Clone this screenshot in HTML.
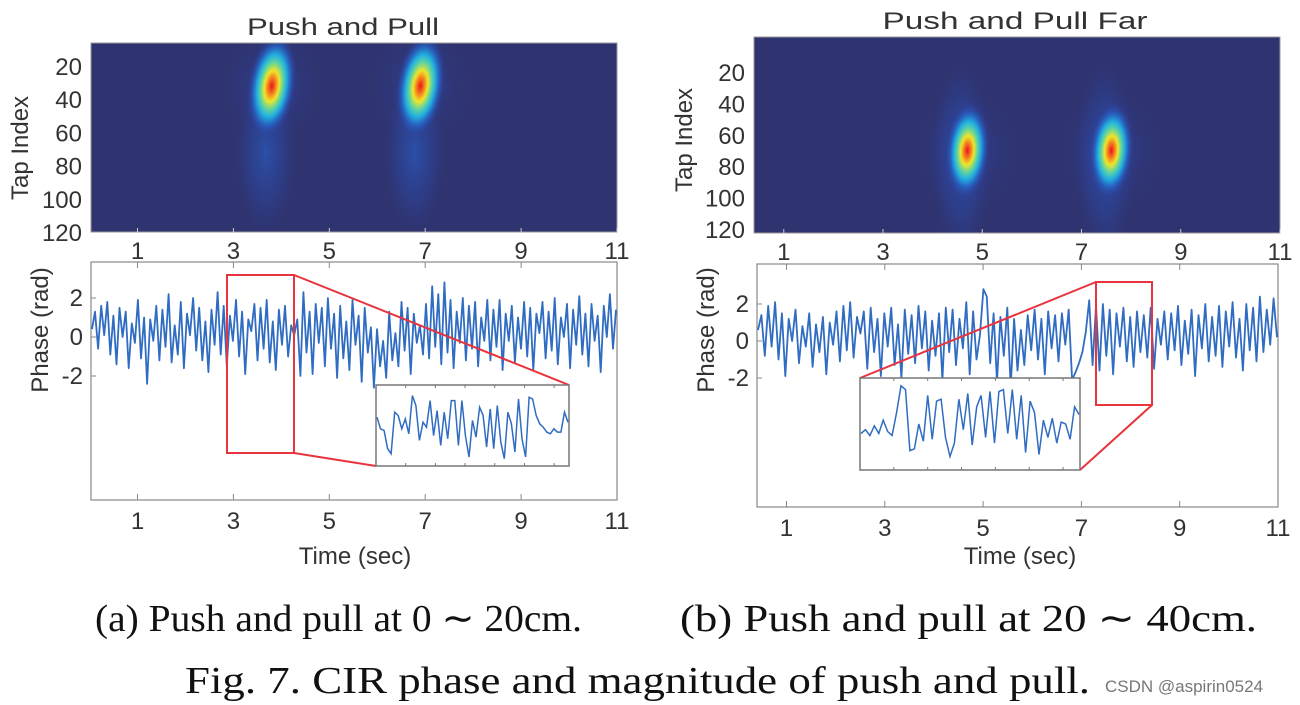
<!DOCTYPE html>
<html><head><meta charset="utf-8"><style>
html,body{margin:0;padding:0;background:#fff;width:1300px;height:705px;overflow:hidden}
svg{display:block}
.ax{font-family:"Liberation Sans",sans-serif;font-size:24px;fill:#333}
.cap{font-family:"Liberation Serif",serif;font-size:38px;fill:#111}
</style></head><body>
<svg id="fig" width="1300" height="705" viewBox="0 0 1300 705" xmlns="http://www.w3.org/2000/svg">
<defs>
<radialGradient id="jet"><stop offset="0" stop-color="#e8141c"/><stop offset="0.16" stop-color="#f57d1e"/><stop offset="0.3" stop-color="#eee629"/><stop offset="0.46" stop-color="#5fd3a0"/><stop offset="0.6" stop-color="#22b0e0"/><stop offset="0.78" stop-color="#2661c4" stop-opacity="0.8"/><stop offset="1" stop-color="#2d3f9a" stop-opacity="0"/></radialGradient>
<radialGradient id="tail"><stop offset="0" stop-color="#2a5cc0" stop-opacity="0.7"/><stop offset="0.6" stop-color="#2b4aa8" stop-opacity="0.4"/><stop offset="1" stop-color="#2d3f9a" stop-opacity="0"/></radialGradient>
<radialGradient id="faint"><stop offset="0" stop-color="#2f48a8" stop-opacity="0.5"/><stop offset="1" stop-color="#2d3f9a" stop-opacity="0"/></radialGradient>
</defs>
<g id="root"></g>
<text class="ax" x="343" y="35" text-anchor="middle" font-size="30" textLength="192" lengthAdjust="spacingAndGlyphs">Push and Pull</text>
<text class="ax" x="1015" y="29" text-anchor="middle" font-size="30" textLength="265" lengthAdjust="spacingAndGlyphs">Push and Pull Far</text>
<text class="ax" transform="translate(28,148) rotate(-90)" text-anchor="middle" font-size="27">Tap Index</text>
<text class="ax" transform="translate(692,140) rotate(-90)" text-anchor="middle" font-size="27">Tap Index</text>
<text class="ax" transform="translate(48,330) rotate(-90)" text-anchor="middle" font-size="32">Phase (rad)</text>
<text class="ax" transform="translate(714,330) rotate(-90)" text-anchor="middle" font-size="32">Phase (rad)</text>
<text class="ax" x="355" y="564" text-anchor="middle" font-size="29">Time (sec)</text>
<text class="ax" x="1020" y="564" text-anchor="middle" font-size="29">Time (sec)</text>
<text class="cap" x="95" y="631" textLength="487" lengthAdjust="spacingAndGlyphs">(a) Push and pull at 0 ∼ 20cm.</text>
<text class="cap" x="680" y="631" textLength="577" lengthAdjust="spacingAndGlyphs">(b) Push and pull at 20 ∼ 40cm.</text>
<text class="cap" x="185" y="693" textLength="905" lengthAdjust="spacingAndGlyphs">Fig. 7.  CIR phase and magnitude of push and pull.</text>
<text x="1105" y="692" font-family="Liberation Sans,sans-serif" font-size="17" fill="#777">CSDN @aspirin0524</text>
</svg>
<script>
const xTicks=[1,3,5,7,9,11];
const tapTicks=[20,40,60,80,100,120];
const phaseTicks=[2,0,-2];
const leftBlobTime=[3.8,6.9];
const leftBlobTap=[32,32];
const rightBlobTime=[4.7,7.6];
const rightBlobTap=[70,70];
const leftPhase=[0.4,1.3,-0.6,1.6,0.1,1.8,-0.9,1.1,-1.4,1.5,0.0,1.3,-1.6,0.7,-0.3,1.9,-1.1,1.0,-2.4,0.9,-0.2,1.6,-1.2,1.4,-0.5,2.2,-1.3,0.6,-0.9,1.8,-1.6,1.2,0.1,2.0,-0.7,1.5,-1.2,0.8,-1.8,1.4,-0.4,2.3,-0.9,1.6,-1.5,1.1,-0.2,1.9,-1.0,1.3,-1.9,0.9,0.3,1.7,-1.2,1.5,-0.6,1.9,-1.3,0.8,-1.7,1.4,-0.4,1.6,-1.0,0.6,0.1,0.9,-2.0,2.3,-0.8,1.3,-1.9,1.7,-0.3,1.5,-1.5,2.0,-0.6,1.2,-2.1,1.6,-1.1,0.8,-1.7,1.9,-0.4,1.1,-2.3,1.5,-0.8,0.5,-2.6,0.4,-1.5,-0.2,-2.1,1.3,-1.2,0.2,-1.5,1.8,-0.7,1.5,-1.9,1.2,-0.3,0.6,-0.9,1.7,-1.1,2.6,-0.5,2.2,-1.4,2.8,-0.8,1.9,-1.6,1.3,-0.3,2.0,-1.2,1.6,-0.6,1.8,-1.5,1.0,-0.2,1.9,-1.2,1.4,-0.5,1.9,-1.7,1.2,-0.2,1.6,-1.3,1.0,-0.6,1.8,-1.0,1.5,-1.7,1.2,0.2,1.8,-1.1,1.3,-0.7,2.0,-1.4,1.0,0.0,1.7,-1.6,1.4,-0.4,2.1,-0.9,1.2,-1.5,1.7,-0.2,1.1,-1.8,1.6,0.0,2.2,-0.6,1.4];
const leftInset=[0.5,-0.2,-0.3,-1.4,-1.7,0.8,0.6,-0.2,0.4,-0.5,1.8,1.2,-0.9,0.2,-0.1,1.5,-0.6,0.9,-1.2,0.8,-0.8,1.5,1.5,-1.2,1.5,-0.6,-1.9,0.3,-0.7,1.1,0.6,-1.3,1.0,-1.4,1.2,-1.0,-2.0,0.8,0.1,-1.6,1.6,-0.8,-1.9,1.7,1.6,0.6,0.1,-0.1,-0.4,-0.5,-0.2,-0.4,-0.4,0.8,0.2];
const rightPhase=[0.6,1.4,-0.8,1.9,-0.3,2.1,-1.0,1.5,-1.9,1.2,0.0,1.7,-1.2,0.8,-0.3,1.5,-1.4,0.9,-0.6,1.3,-1.8,1.0,-0.2,1.6,-1.1,1.9,-0.5,2.1,-0.9,1.3,0.4,1.6,-1.5,1.8,-0.6,1.2,-1.9,1.5,-0.3,1.8,-1.3,0.9,-2.0,1.7,-0.7,1.4,-1.2,1.9,-0.4,1.6,-1.6,1.1,-0.8,1.5,-2.1,1.8,-0.6,1.7,-1.3,1.2,-0.4,2.1,-1.8,1.6,-1.0,0.3,2.8,2.4,-1.2,1.5,-2.2,1.3,-0.8,1.8,-2.5,1.2,-1.6,0.6,-1.3,1.4,-0.5,1.7,-1.0,1.2,-1.8,1.6,-0.4,1.4,-1.1,1.5,-0.2,1.7,-2.1,-1.7,-1.2,-0.6,0.5,2.2,-1.3,1.9,-1.6,2.0,-0.8,1.7,-1.8,1.5,-0.3,1.8,-1.1,1.3,-1.4,1.6,-0.6,1.4,-0.9,1.8,-1.5,1.2,-0.2,1.6,-1.0,1.5,-0.5,1.9,-1.3,1.1,-0.7,1.7,-1.9,1.4,-0.4,2.0,-1.1,1.3,-0.8,1.9,-1.4,1.6,-0.3,2.1,-0.9,1.2,-1.6,2.0,-0.5,1.8,-1.1,2.4,-0.6,1.7,-0.2,2.3,0.2];
const rightInset=[-0.5,-0.3,-0.6,-0.1,-0.5,0.2,-0.4,-0.6,0.6,2.0,1.8,-1.4,-1.3,0.0,-0.9,1.5,-0.8,1.2,1.3,-0.7,-1.7,-1.0,1.3,-0.3,1.6,-1.1,0.9,1.5,-0.7,1.7,-1.0,1.7,1.8,-0.5,1.8,-0.8,1.5,-1.5,1.2,0.6,-1.6,0.2,-0.7,0.3,-1.0,0.1,0.0,-0.8,0.9,0.5];

const NS='http://www.w3.org/2000/svg';
const root=document.getElementById('root');
function mk(tag,attrs,parent){const e=document.createElementNS(NS,tag);for(const k in attrs)e.setAttribute(k,attrs[k]);(parent||root).appendChild(e);return e;}
function lin(d0,d1,r0,r1){return v=>r0+(v-d0)*(r1-r0)/(d1-d0);}

function heatmap(p){
  const g=mk('g',{});
  
  
  const xs=lin(p.t0,p.t1,p.x0,p.x1), ys=lin(20,120,p.yA,p.yB);
  const clip='c'+p.name;
  const cp=mk('clipPath',{id:clip},g);mk('rect',{x:p.x0,y:p.y0,width:p.x1-p.x0,height:p.y1-p.y0},cp);
  mk('rect',{x:p.x0,y:p.y0,width:p.x1-p.x0,height:p.y1-p.y0,fill:'#2f3470'},g);
  const inner=mk('g',{'clip-path':'url(#'+clip+')'},g);
  for(let i=0;i<p.bt.length;i++){
    const cx=xs(p.bt[i]), cy=ys(p.bp[i]);
    const tl=mk('ellipse',{cx:cx-6,cy:ys(p.bp[i]+p.tailOff),rx:30,ry:p.tailRy,fill:'url(#tail)'},inner);
    
    
    const fb=mk('ellipse',{cx:cx,cy:cy,rx:50,ry:p.faintRy,fill:'url(#faint)'},inner);
    
    
    const b=mk('ellipse',{cx:cx,cy:cy,rx:p.rx,ry:p.ry,fill:'url(#jet)',transform:'rotate('+p.rot+' '+cx+' '+cy+')'},inner);
    
    
  }
  mk('rect',{x:p.x0,y:p.y0,width:p.x1-p.x0,height:p.y1-p.y0,fill:'none',stroke:'#999','stroke-width':1},g);
  xTicks.forEach(t=>{const x=xs(t);
    mk('line',{x1:x,x2:x,y1:p.y1,y2:p.y1-4,stroke:'#ccc'},g);
    const tx=mk('text',{x:x,y:p.y1+27,'text-anchor':'middle',class:'ax'},g);tx.textContent=t;
    
    });
  tapTicks.forEach(t=>{const tx=mk('text',{x:p.x0-9,y:ys(t)+9,'text-anchor':'end',class:'ax'},g);tx.textContent=t;
    
    });
}

function phase(p){
  const g=mk('g',{});
  
  
  const xs=lin(p.t0,p.t1,p.x0,p.x1), ys=lin(2,-2,p.y2,p.ym2);
  mk('rect',{x:p.x0,y:p.y0,width:p.x1-p.x0,height:p.y1-p.y0,fill:'#fff',stroke:'#888','stroke-width':1.2},g);
  xTicks.forEach(t=>{const x=xs(t);
    mk('line',{x1:x,x2:x,y1:p.y1,y2:p.y1-6,stroke:'#888'},g);
    mk('line',{x1:x,x2:x,y1:p.y0,y2:p.y0+6,stroke:'#888'},g);
    const tx=mk('text',{x:x,y:p.y1+29,'text-anchor':'middle',class:'ax'},g);tx.textContent=t;
    
    });
  phaseTicks.forEach(v=>{const y=ys(v);
    mk('line',{x1:p.x0,x2:p.x0+5,y1:y,y2:y,stroke:'#888'},g);
    const tx=mk('text',{x:p.x0-8,y:y+8,'text-anchor':'end',class:'ax'},g);tx.textContent=v;
    
    });
  const n=p.data.length, tA=p.t0+0.02, tB=p.t1-0.02;
  const pts=p.data.map((v,i)=>xs(tA+(tB-tA)*i/(n-1)).toFixed(1)+','+ys(v).toFixed(1)).join(' ');
  const line=mk('polyline',{points:pts,fill:'none',stroke:'#2f6cc2','stroke-width':1.8,'stroke-linejoin':'round'},g);
  
  
  const r=p.box;
  const rb=mk('rect',{x:r[0],y:r[1],width:r[2]-r[0],height:r[3]-r[1],fill:'none',stroke:'#e8343c','stroke-width':2},g);
  
  
  const q=p.inset;
  p.conn.forEach(c=>{const l=mk('line',{x1:c[0],y1:c[1],x2:c[2],y2:c[3],stroke:'#e8343c','stroke-width':2},g);
    
    });
  const ig=mk('g',{},g);
  
  
  mk('rect',{x:q[0],y:q[1],width:q[2]-q[0],height:q[3]-q[1],fill:'#fff',stroke:'#777','stroke-width':1.5},ig);
  for(let k=1;k<7;k++){const x=q[0]+(q[2]-q[0])*k/6.5;mk('line',{x1:x,x2:x,y1:q[3],y2:q[3]-3,stroke:'#777'},ig);mk('line',{x1:x,x2:x,y1:q[1],y2:q[1]+3,stroke:'#777'},ig);}
  const ix=lin(0,p.insetData.length-1,q[0]+1,q[2]-1), iy=lin(2.2,-2.2,q[1]+4,q[3]-4);
  const ipts=p.insetData.map((v,i)=>ix(i).toFixed(1)+','+iy(v).toFixed(1)).join(' ');
  const il=mk('polyline',{points:ipts,fill:'none',stroke:'#2f6cc2','stroke-width':1.5},ig);
  
  
}

heatmap({name:'left-heatmap',x0:91,x1:617,y0:43,y1:232,yA:66,yB:232,t0:0.03,t1:11,bt:leftBlobTime,bp:leftBlobTap,rx:24,ry:52,rot:8,tailOff:40,tailRy:80,faintRy:55});
heatmap({name:'right-heatmap',x0:754,x1:1280,y0:37,y1:233,yA:72,yB:229,t0:0.4,t1:11,bt:rightBlobTime,bp:rightBlobTap,rx:22,ry:48,rot:4,tailOff:5,tailRy:95,faintRy:60});
phase({name:'left-phase-plot',x0:91,x1:617,y0:262,y1:500,t0:0.03,t1:11,y2:298,ym2:376,data:leftPhase,insetData:leftInset,
  box:[227,275,294,453],inset:[376,385,569,466],conn:[[294,275,569,385],[294,453,376,466]]});
phase({name:'right-phase-plot',x0:757,x1:1278,y0:264,y1:507,t0:0.4,t1:11,y2:304,ym2:378,data:rightPhase,insetData:rightInset,
  box:[1096,282,1152,405],inset:[860,378,1080,470],conn:[[1096,282,860,378],[1152,405,1080,470]]});
</script>
</body></html>
